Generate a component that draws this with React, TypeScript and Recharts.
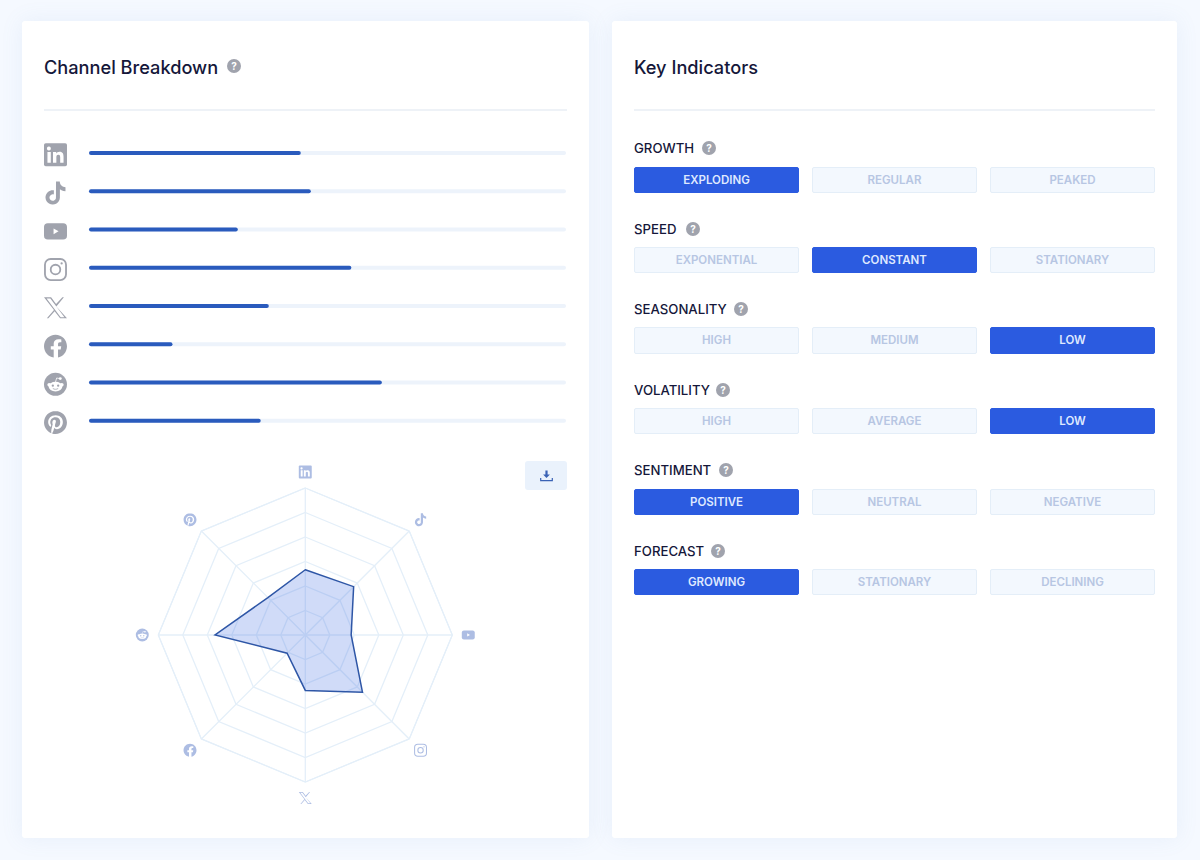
import React from 'react';
import {
  BarChart,
  Bar,
  XAxis,
  YAxis,
  RadarChart,
  Radar,
  PolarGrid,
  PolarAngleAxis,
  PolarRadiusAxis,
} from 'recharts';

const channels = ['LinkedIn', 'TikTok', 'YouTube', 'Instagram', 'X', 'Facebook', 'Reddit', 'Pinterest'];
const channelValues = [44.4, 46.5, 31.2, 55, 37.7, 17.5, 61.4, 36];
const ringTicks = [0, 16.67, 33.33, 50, 66.67, 83.33, 100];

const indicatorNames = ['GROWTH', 'SPEED', 'SEASONALITY', 'VOLATILITY', 'SENTIMENT', 'FORECAST'];
const indicatorOptions = [
  ['EXPLODING', 'REGULAR', 'PEAKED'],
  ['EXPONENTIAL', 'CONSTANT', 'STATIONARY'],
  ['HIGH', 'MEDIUM', 'LOW'],
  ['HIGH', 'AVERAGE', 'LOW'],
  ['POSITIVE', 'NEUTRAL', 'NEGATIVE'],
  ['GROWING', 'STATIONARY', 'DECLINING'],
];
const indicatorSelected = [0, 1, 2, 2, 0, 0];
const indicatorLabelTops = [138, 219, 299, 380, 460, 541];
const indicatorRowTops = [166.7, 246.5, 327, 407.5, 488.5, 568.5];
const helpOffsets = [68, 52, 100, 82, 85, 77];

const chartData = channels.map((name, i) => ({ name, value: channelValues[i] }));

const FONT = 'Inter, "Noto Sans", sans-serif';

// brand glyphs, all on a 24x24 box
const ChannelIcon = ({ name, color }: { name: string; color: string }) => {
  switch (name) {
    case 'LinkedIn':
      return (
        <g>
          <rect x="0" y="0" width="24" height="24" rx="1.8" fill={color} />
          <path
            fill="#fff"
            d="M20.4 20.4h-3.5v-5.6c0-1.3 0-3-1.9-3s-2.1 1.4-2.1 2.9v5.7H9.4V9h3.4v1.6c.5-.9 1.6-1.9 3.4-1.9 3.6 0 4.2 2.4 4.2 5.5v6.2zM5.3 7.4a2.06 2.06 0 1 1 0-4.1 2.06 2.06 0 0 1 0 4.1zm1.8 13H3.6V9h3.5v11.4z"
          />
        </g>
      );
    case 'TikTok':
      return (
        <path
          fill={color}
          d="M12.525.02c1.31-.02 2.61-.01 3.91-.02.08 1.53.63 3.09 1.75 4.17 1.12 1.11 2.7 1.62 4.24 1.79v4.03c-1.44-.05-2.89-.35-4.2-.97-.57-.26-1.1-.59-1.62-.93-.01 2.92.01 5.84-.02 8.75-.08 1.4-.54 2.79-1.35 3.94-1.31 1.92-3.58 3.17-5.91 3.21-1.43.08-2.86-.31-4.08-1.03-2.02-1.19-3.44-3.37-3.65-5.71-.02-.5-.03-1-.01-1.49.18-1.9 1.12-3.72 2.58-4.96 1.66-1.44 3.98-2.13 6.15-1.72.02 1.48-.04 2.96-.04 4.44-.99-.32-2.15-.23-3.02.37-.63.41-1.11 1.04-1.36 1.75-.21.51-.15 1.07-.14 1.61.24 1.64 1.82 3.02 3.5 2.87 1.12-.01 2.19-.66 2.77-1.61.19-.33.4-.67.41-1.06.1-1.79.06-3.57.07-5.36.01-4.03-.01-8.05.02-12.07z"
        />
      );
    case 'YouTube':
      return (
        <g>
          <rect x="0" y="3.5" width="24" height="17" rx="4" fill={color} />
          <path d="M10 9l5.2 3-5.2 3z" fill="#fff" />
        </g>
      );
    case 'Instagram':
      return (
        <g fill="none" stroke={color} strokeWidth="1.9">
          <rect x="1" y="1" width="22" height="22" rx="6" />
          <circle cx="12" cy="12" r="5" />
          <circle cx="18.4" cy="5.6" r="1.2" fill={color} stroke="none" />
        </g>
      );
    case 'X':
      return (
        <path
          fill={color}
          fillRule="evenodd"
          d="M19.2 1h1.6l-7.9 9.6L24 23h-7.2l-5.7-7.4L4.6 23H3l7.4-8.6L0 1h7.4l5.2 6.9zM17.4 21.8h3.9L6.6 2.2H2.7z"
        />
      );
    case 'Facebook':
      return (
        <path
          fill={color}
          d="M24 12.073c0-6.627-5.373-12-12-12s-12 5.373-12 12c0 5.99 4.388 10.954 10.125 11.854v-8.385H7.078v-3.47h3.047V9.43c0-3.007 1.985-4.668 5.023-4.668 1.44 0 2.947.257 2.947.257v2.953h-1.49c-1.491 0-1.956.925-1.956 1.874v2.25h3.328l-.532 3.47h-2.796v8.385C19.612 23.027 24 18.062 24 12.073z"
        />
      );
    case 'Reddit':
      return (
        <g>
          <circle cx="12" cy="12" r="12" fill={color} />
          <circle cx="5.4" cy="12.4" r="1.9" fill="#fff" />
          <circle cx="18.6" cy="12.4" r="1.9" fill="#fff" />
          <ellipse cx="12" cy="14.4" rx="7.2" ry="5" fill="#fff" />
          <circle cx="17" cy="6" r="1.5" fill="#fff" />
          <path d="M12 9.6l1.2-4.2 3.6.7" fill="none" stroke="#fff" strokeWidth="0.8" />
          <circle cx="9.2" cy="13.4" r="1.2" fill={color} />
          <circle cx="14.8" cy="13.4" r="1.2" fill={color} />
          <path d="M9.2 16.3c1.6 1.2 4 1.2 5.6 0" fill="none" stroke={color} strokeWidth="0.8" />
        </g>
      );
    default:
      return (
        <path
          fill={color}
          d="M12.017 0C5.396 0 .029 5.367.029 11.987c0 5.079 3.158 9.417 7.618 11.162-.105-.949-.199-2.403.041-3.439.219-.937 1.406-5.957 1.406-5.957s-.359-.72-.359-1.781c0-1.663.967-2.911 2.168-2.911 1.024 0 1.518.769 1.518 1.688 0 1.029-.653 2.567-.992 3.992-.285 1.193.6 2.165 1.775 2.165 2.128 0 3.768-2.245 3.768-5.487 0-2.861-2.063-4.869-5.008-4.869-3.41 0-5.409 2.562-5.409 5.199 0 1.033.394 2.143.889 2.741.099.12.112.225.085.345-.09.375-.293 1.199-.334 1.363-.053.225-.172.271-.401.165-1.495-.69-2.433-2.878-2.433-4.646 0-3.776 2.748-7.252 7.92-7.252 4.158 0 7.392 2.967 7.392 6.923 0 4.135-2.607 7.462-6.233 7.462-1.214 0-2.354-.629-2.758-1.379l-.749 2.848c-.269 1.045-1.004 2.352-1.498 3.146 1.123.345 2.306.535 3.55.535 6.607 0 11.985-5.365 11.985-11.987C23.97 5.39 18.592.026 11.985.026L12.017 0z"
        />
      );
  }
};

const RowTick = ({ x, y, payload }: any) => (
  <g transform={`translate(${x - 45},${y - 9.8}) scale(0.958)`}>
    <ChannelIcon name={payload.value} color="#a0a3ad" />
  </g>
);

const RADAR_CX = 175.3;
const RADAR_CY = 185;

const RadarTick = ({ x, y, payload }: any) => {
  // push the icon a little past the default tick spot
  const k = 163 / 155;
  const px = RADAR_CX + (x - RADAR_CX) * k;
  const py = RADAR_CY + (y - RADAR_CY) * k;
  return (
    <g transform={`translate(${px - 6.5},${py - 6.5}) scale(0.54)`}>
      <ChannelIcon name={payload.value} color="#adbde3" />
    </g>
  );
};

const Help = ({ left, top, size = 14 }: { left: number; top: number; size?: number }) => (
  <div
    style={{
      position: 'absolute',
      left,
      top,
      width: size,
      height: size,
      borderRadius: '50%',
      background: '#a0a3ad',
      color: '#fff',
      fontSize: size - 4,
      fontWeight: 700,
      lineHeight: `${size}px`,
      textAlign: 'center',
    }}
  >
    ?
  </div>
);

const Card = ({ left, width }: { left: number; width: number }) => (
  <div
    style={{
      position: 'absolute',
      left,
      top: 21,
      width,
      height: 817,
      background: '#fff',
      borderRadius: 3,
      boxShadow: '0 0 22px rgba(110,150,210,0.1)',
    }}
  />
);

const buttonLefts = [634, 812, 990];

export default function App() {
  return (
    <div
      style={{
        position: 'absolute',
        left: 0,
        top: 0,
        width: 1200,
        height: 860,
        overflow: 'hidden',
        background: '#f5f9ff',
        fontFamily: FONT,
      }}
    >
      <Card left={22} width={567} />
      <Card left={612} width={565} />

      <div style={{ position: 'absolute', left: 44, top: 54.5, fontSize: 18.2, fontWeight: 500, color: '#15173a', lineHeight: '24px' }}>
        Channel Breakdown
      </div>
      <Help left={227} top={59} />
      <div style={{ position: 'absolute', left: 44, top: 109, width: 523, height: 2, background: '#eef2f7' }} />

      <div style={{ position: 'absolute', left: 22, top: 134 }}>
        <BarChart
          width={544}
          height={306}
          layout="vertical"
          data={chartData}
          margin={{ top: 0, right: 0, bottom: 0, left: 0 }}
        >
          <XAxis type="number" domain={[0, 100]} hide />
          <YAxis
            type="category"
            dataKey="name"
            width={67}
            tickLine={false}
            axisLine={false}
            tickSize={0}
            tickMargin={0}
            interval={0}
            tick={<RowTick />}
          />
          <Bar
            dataKey="value"
            barSize={4}
            fill="#2a5bbd"
            radius={2}
            background={{ fill: '#edf3fb', radius: 2 }}
            isAnimationActive={false}
          />
        </BarChart>
      </div>

      <div style={{ position: 'absolute', left: 130, top: 450 }}>
        <RadarChart
          width={350}
          height={370}
          cx={RADAR_CX}
          cy={RADAR_CY}
          outerRadius={147}
          data={chartData}
          margin={{ top: 0, right: 0, bottom: 0, left: 0 }}
        >
          <PolarGrid gridType="polygon" stroke="#e4eff9" strokeWidth={1.3} />
          <PolarAngleAxis dataKey="name" tick={<RadarTick />} tickLine={false} stroke="#e4eff9" />
          <PolarRadiusAxis domain={[0, 100]} ticks={ringTicks as any} tick={false} axisLine={false} />
          <Radar
            dataKey="value"
            stroke="#2e56a6"
            strokeWidth={1.5}
            fill="#2b5ce0"
            fillOpacity={0.22}
            isAnimationActive={false}
          />
        </RadarChart>
      </div>

      <div
        style={{
          position: 'absolute',
          left: 525,
          top: 461,
          width: 42,
          height: 29,
          borderRadius: 3,
          background: '#eaf2fc',
        }}
      >
        <svg width="13" height="12" viewBox="0 0 13 12" style={{ position: 'absolute', left: 15, top: 8.5 }}>
          <path d="M5.4 0.5h2.2v4h2.3L6.5 8 3.1 4.5h2.3z" fill="#3a62b5" />
          <path d="M0.7 8v2.6h11.6V8" fill="none" stroke="#3a62b5" strokeWidth="1.2" />
        </svg>
      </div>

      <div style={{ position: 'absolute', left: 634, top: 54.5, fontSize: 18.2, fontWeight: 500, color: '#15173a', lineHeight: '24px' }}>
        Key Indicators
      </div>
      <div style={{ position: 'absolute', left: 634, top: 109, width: 521, height: 2, background: '#eef2f7' }} />

      {indicatorNames.map((name, r) => (
        <React.Fragment key={name}>
          <div
            style={{
              position: 'absolute',
              left: 634,
              top: indicatorLabelTops[r],
              fontSize: 13.2,
              fontWeight: 500,
              color: '#15173a',
              lineHeight: '20px',
            }}
          >
            {name}
          </div>
          <Help left={634 + helpOffsets[r]} top={indicatorLabelTops[r] + 2.5} />
          {indicatorOptions[r].map((opt, c) => {
            const on = indicatorSelected[r] === c;
            return (
              <div
                key={opt}
                style={{
                  position: 'absolute',
                  boxSizing: 'border-box',
                  left: buttonLefts[c],
                  top: indicatorRowTops[r],
                  width: 165,
                  height: 26.5,
                  borderRadius: 2,
                  background: on ? '#2b5be0' : '#f3f8fe',
                  border: `1px solid ${on ? '#2b5be0' : '#e4eef8'}`,
                  color: on ? '#dfe9ff' : '#b7c6e3',
                  fontSize: 11.5,
                  fontWeight: 600,
                  lineHeight: '24.5px',
                  textAlign: 'center',
                }}
              >
                {opt}
              </div>
            );
          })}
        </React.Fragment>
      ))}
    </div>
  );
}
